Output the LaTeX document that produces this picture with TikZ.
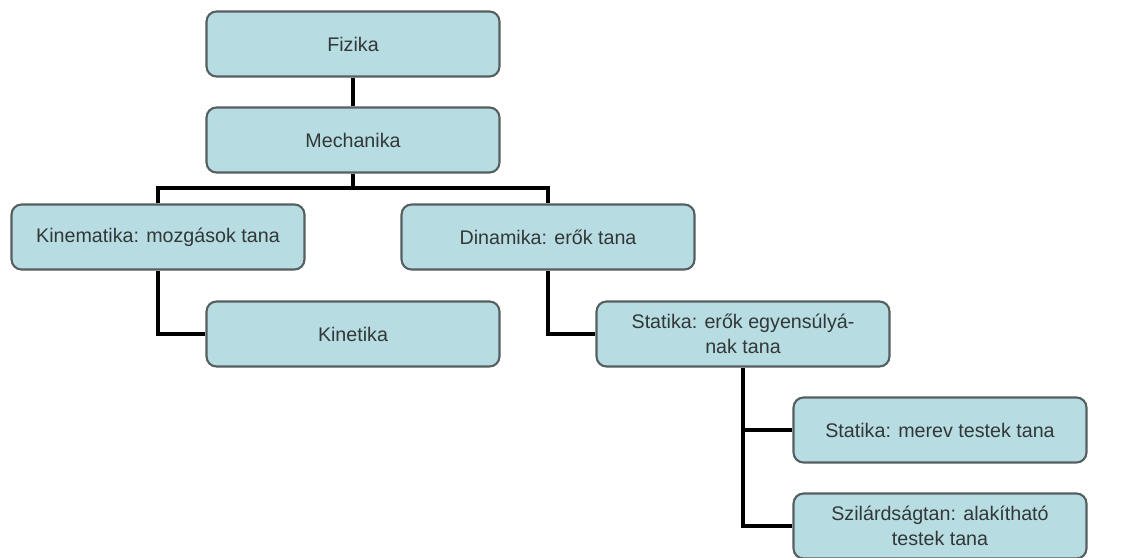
\documentclass[tikz,border=0pt]{standalone}
\usepackage{fontspec}
\setmainfont{Liberation Sans}
\definecolor{boxfill}{RGB}{183,221,227}
\definecolor{boxline}{RGB}{85,95,95}
\definecolor{boxtext}{RGB}{50,55,55}
\tikzset{
  topic/.style={draw=boxline, line width=1.2pt, fill=boxfill, rounded corners=0.2cm,
    minimum width=5.86cm, minimum height=1.3cm, inner sep=2pt, align=center,
    text=boxtext, font=\fontsize{11.2}{14.5}\selectfont},
  link/.style={line width=1.8pt, black}
}
\begin{document}
\begin{tikzpicture}[x=0.02cm,y=-0.02cm]
\useasboundingbox[fill=white] (0,0) rectangle (1124,557);

\node[topic] (fiz) at (353,44) {Fizika};
\node[topic] (mech) at (353,140) {Mechanika};
\node[topic] (kin) at (158,237) {Kinematika: mozgások tana};
\node[topic] (din) at (548,237) {Dinamika: erők tana};
\node[topic] (kinet) at (353,334) {Kinetika};
\node[topic] (stat) at (743,334) {Statika: erők egyensúlyá-\\nak tana};
\node[topic] (merev) at (940,430) {Statika: merev testek tana};
\node[topic] (szil) at (940,526) {Szilárdságtan: alakítható\\testek tana};

\coordinate (bar) at (353,188);
\draw[link] (fiz) -- (mech);
\draw[link] (mech) -- (bar);
\draw[link] (kin.north) |- (bar) -| (din.north);
\draw[link] (kin.south) |- (kinet.west);
\draw[link] (din.south) |- (stat.west);
\draw[link] (stat.south) |- (merev.west);
\draw[link] (stat.south) |- (szil.west);
\end{tikzpicture}
\end{document}
